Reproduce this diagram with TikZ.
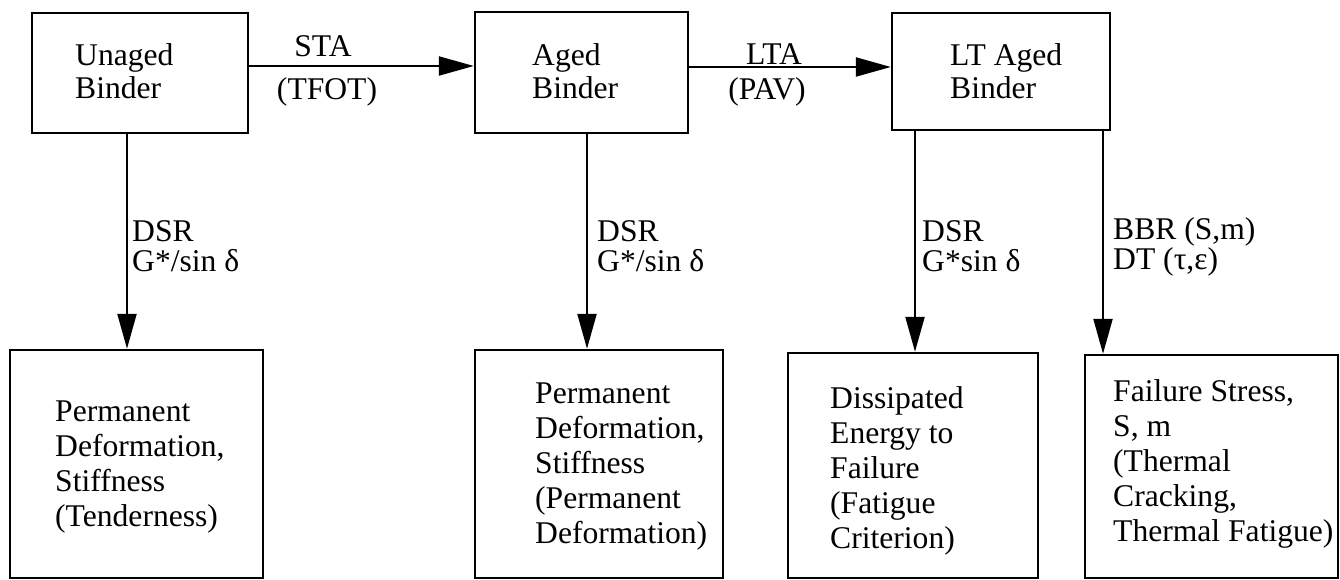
\documentclass[tikz,border=0pt]{standalone}
\usepackage{fontspec}
\setmainfont{Liberation Serif}
\usetikzlibrary{arrows.meta}

\tikzset{
  box/.style={draw, line width=2.4pt, inner sep=0pt},
  txt/.style={anchor=west, align=left, inner sep=0pt, font=\fontsize{31.6}{35}\selectfont},
  toptxt/.style={txt, font=\fontsize{31.6}{33}\selectfont},
  lbl/.style={txt, font=\fontsize{31.6}{30}\selectfont},
  arr/.style={line width=2.2pt, -{Triangle[length=35pt,width=19pt]}},
}

\begin{document}
\begin{tikzpicture}[x=1pt,y=1pt]
    \useasboundingbox (0,0) rectangle (1340,580);

    % Binder states
    \node[box, minimum width=216pt, minimum height=120pt] (unaged) at (140,507) {};
    \node[box, minimum width=213pt, minimum height=121pt] (aged) at (581.5,507.5) {};
    \node[box, minimum width=218pt, minimum height=117pt] (ltaged) at (1001,508.5) {};
    \node[toptxt] (unagedtxt) at (75,508.5) {Unaged\\Binder};
    \node[toptxt] (agedtxt) at (532,508.5) {Aged\\Binder};
    \node[toptxt] (ltagedtxt) at (950,508.5) {LT Aged\\Binder};

    % Properties
    \node[box, minimum width=253pt, minimum height=228pt] (perm1) at (136.5,116) {};
    \node[box, minimum width=248pt, minimum height=228pt] (perm2) at (599,116) {};
    \node[box, minimum width=250pt, minimum height=225pt] (diss) at (913,114.5) {};
    \node[box, minimum width=253pt, minimum height=223pt] (fail) at (1211.5,113.5) {};
    \node[txt] (perm1txt) at (55,113) {Permanent\\Deformation,\\Stiffness\\(Tenderness)};
    \node[txt] (perm2txt) at (535,113) {Permanent\\Deformation,\\Stiffness\\(Permanent\\Deformation)};
    \node[txt] (disstxt) at (830,109) {Dissipated\\Energy to\\Failure\\(Fatigue\\Criterion)};
    \node[txt] (failtxt) at (1113,116) {Failure Stress,\\S, m\\(Thermal\\Cracking,\\Thermal Fatigue)};

    % Aging steps
    \draw[arr] (unaged.east |- 0,514) -- (aged.west |- 0,514);
    \draw[arr] (aged.east |- 0,513) -- (ltaged.west |- 0,513);
    \node[txt, anchor=center] (sta) at (323,534) {STA};
    \node[txt, anchor=center] (tfot) at (327,488.5) {(TFOT)};
    \node[txt, anchor=center] (lta) at (774,526) {LTA};
    \node[txt, anchor=center] (pav) at (767,488.5) {(PAV)};

    % Tests
    \draw[arr] (unaged.south -| 127,0) -- (perm1.north -| 127,0);
    \draw[arr] (aged.south -| 587,0) -- (perm2.north -| 587,0);
    \draw[arr] (ltaged.south -| 915,0) -- (diss.north -| 915,0);
    \draw[arr] (ltaged.south -| 1103,0) -- (fail.north -| 1103,0);
    \node[lbl] (dsr1) at (132,333.5) {DSR\\G*/sin δ};
    \node[lbl] (dsr2) at (597,333.5) {DSR\\G*/sin δ};
    \node[lbl] (dsr3) at (922,333.5) {DSR\\G*sin δ};
    \node[lbl] (bbr) at (1113,333.5) {BBR (S,m)\\DT (τ,ε)};
\end{tikzpicture}
\end{document}
